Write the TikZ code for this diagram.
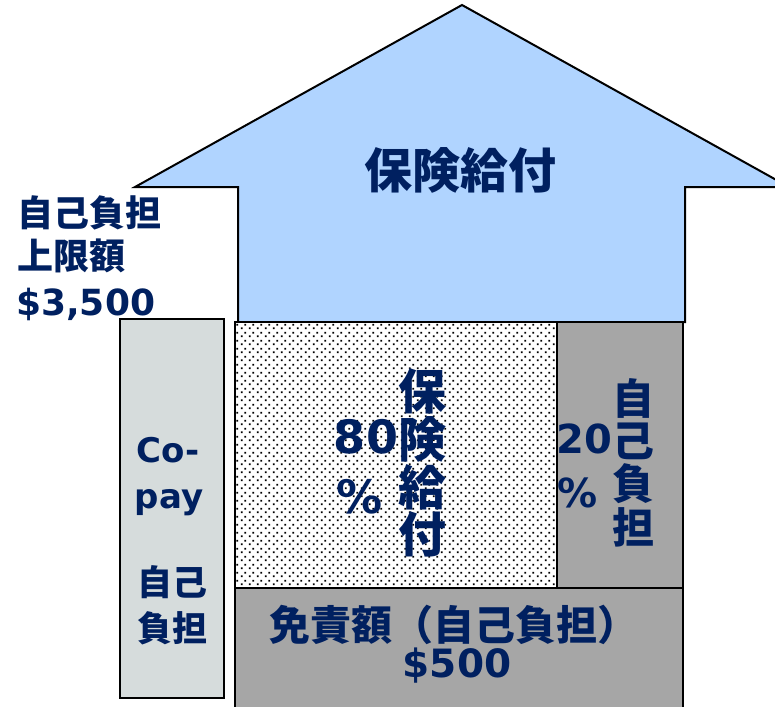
\documentclass[tikz,border=0pt]{standalone}
\usepackage{fontspec}
\setmainfont{DejaVu Sans}
\newfontfamily\cjk{Noto Sans CJK JP}
\usetikzlibrary{patterns.meta}
\definecolor{navy}{RGB}{0,32,96}
\definecolor{arrowblue}{RGB}{176,212,255}
\definecolor{boxgray}{RGB}{166,166,166}
\definecolor{copaygray}{RGB}{214,220,220}
\tikzdeclarepattern{
  name=sqdots,
  type=uncolored,
  bottom left={(0pt,0pt)},
  top right={(8pt,8pt)},
  tile size={(8pt,8pt)},
  code={
    \fill (1pt,1pt) rectangle (3pt,3pt);
    \fill (5pt,5pt) rectangle (7pt,7pt);
  }
}
\begin{document}
\begin{tikzpicture}[x=1pt,y=-1pt,
  outline/.style={draw=black, line width=2pt},
  jp/.style={text=navy, font=\cjk\bfseries\fontsize{#1}{#1}\selectfont, inner sep=0pt},
  lat/.style={text=navy, font=\bfseries\fontsize{#1}{#1}\selectfont, inner sep=0pt},
]
\useasboundingbox (0,0) rectangle (775,706);
\clip (0,0) rectangle (775,706);
% arrow
\path[fill=arrowblue, outline, line join=miter] (238,322) -- (238,187) -- (135,187) -- (462,5) -- (789,187) -- (685,187) -- (685,322) -- cycle;
% co-pay box
\path[fill=copaygray, outline] (120,319) rectangle (224,698);
% dotted box
\fill[white] (235,322) rectangle (557,588);
\fill[pattern=sqdots, pattern color=black] (235,322) rectangle (557,588);
\draw[outline] (235,322) rectangle (557,588);
% 20% box
\path[fill=boxgray, outline] (557,322) rectangle (683,588);
% deductible box
\path[fill=boxgray, outline] (235,588) rectangle (683,720);

% texts
\node[jp=48] (ins) at (460,170) {保険給付};

\node[jp=36, anchor=west] (capa) at (17,213) {自己負担};
\node[jp=36, anchor=west] (capb) at (17,256) {上限額};
\node[lat=36, anchor=base west] (capc) at (16,315) {\$3,500};

\node[lat=34, anchor=base] (copa) at (168,462) {Co-};
\node[lat=34, anchor=base] (copb) at (169,508) {pay};
\node[jp=35] (copc) at (172,582) {自己};
\node[jp=35] (copd) at (172,628) {負担};

\node[lat=46, anchor=base] (eighty) at (366,453) {80};
\node[lat=46, anchor=base] (pcta) at (360,513) {\%};
\node[jp=48] (va) at (422,391) {保};
\node[jp=48] (vb) at (422,439) {険};
\node[jp=48] (vc) at (422,487) {給};
\node[jp=48] (vd) at (422,534) {付};

\node[lat=40, anchor=base] (twenty) at (584,453) {20};
\node[lat=40, anchor=base] (pctb) at (578,507) {\%};
\node[jp=42] (wa) at (633,398) {自};
\node[jp=42] (wb) at (633,441) {己};
\node[jp=42] (wc) at (633,484) {負};
\node[jp=42] (wd) at (633,527) {担};

\node[jp=41] (ded) at (454,625) {免責額（自己負担）};
\node[lat=39, anchor=base] (dedamt) at (457,677) {\$500};
\end{tikzpicture}
\end{document}
